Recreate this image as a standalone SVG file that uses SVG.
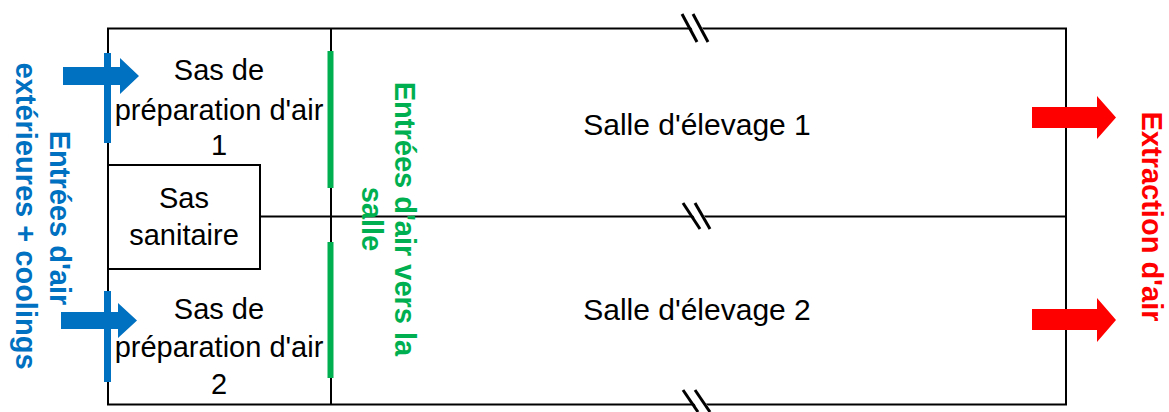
<svg xmlns="http://www.w3.org/2000/svg" width="1169" height="412" viewBox="0 0 1169 412">
<style>
.wall{fill:none;stroke:#000;stroke-width:2}
.brk{stroke:#000;stroke-width:3;fill:none}
.t{font-family:"Liberation Sans",Arial,sans-serif;font-size:29px;fill:#000;text-anchor:middle}
.ts{font-family:"Liberation Sans",Arial,sans-serif;font-size:30px;fill:#000;text-anchor:middle}
.lb{font-family:"Liberation Sans",Arial,sans-serif;font-size:29px;font-weight:bold;text-anchor:middle}
.blue{fill:#0070C0}
.green{fill:#00B050}
.red{fill:#FF0000}
</style>
<rect width="1169" height="412" fill="#fff"/>
<g id="walls">
<rect class="wall" x="108" y="28.5" width="958" height="376"/>
<line class="wall" x1="331" y1="28.5" x2="331" y2="404.5"/>
<line class="wall" x1="260" y1="216.5" x2="1066" y2="216.5"/>
</g>
<g id="breaks">
<polygon points="684,14 695,14 710,42 699,42" fill="#fff"/>
<line class="brk" x1="682" y1="14" x2="697" y2="42"/>
<line class="brk" x1="693" y1="14" x2="708" y2="42"/>
<polygon points="685,203 697,203 712,229 702,229" fill="#fff"/>
<line class="brk" x1="683" y1="203" x2="700" y2="229"/>
<line class="brk" x1="695" y1="203" x2="710" y2="229"/>
<polygon points="685,390 697,390 712,412 700,412" fill="#fff"/>
<line class="brk" x1="683" y1="390" x2="698" y2="412"/>
<line class="brk" x1="695" y1="390" x2="710" y2="412"/>
</g>
<g id="sas-prep-1">
<text class="t" x="219" y="80">Sas de</text>
<text class="t" x="219" y="120">préparation d'air</text>
<text class="t" x="219" y="155">1</text>
</g>
<g id="sas-sanitaire">
<rect class="wall" x="108" y="165" width="152" height="104" fill="#fff"/>
<text class="t" x="184" y="208">Sas</text>
<text class="t" x="184" y="245">sanitaire</text>
</g>
<g id="sas-prep-2">
<text class="t" x="219" y="319">Sas de</text>
<text class="t" x="219" y="357">préparation d'air</text>
<text class="t" x="219" y="394">2</text>
</g>
<g id="salle-1">
<text class="ts" x="697" y="135">Salle d'élevage 1</text>
</g>
<g id="salle-2">
<text class="ts" x="697" y="320">Salle d'élevage 2</text>
</g>
<g id="entrees-ext">
<rect class="blue" x="104" y="53" width="7" height="90"/>
<rect class="blue" x="104" y="291" width="7" height="91"/>
<g transform="translate(50,218) rotate(90)"><text class="lb blue" x="0" y="0">Entrées d'air</text></g>
<g transform="translate(16,216) rotate(90)"><text class="lb blue" x="0" y="0">extérieures + coolings</text></g>
</g>
<g id="entrees-salle">
<rect class="green" x="327.5" y="51" width="6" height="137"/>
<rect class="green" x="327.5" y="242" width="6" height="136"/>
<g transform="translate(395,219) rotate(90)"><text class="lb green" x="0" y="0">Entrées d'air vers la</text></g>
<g transform="translate(362,219) rotate(90)"><text class="lb green" x="0" y="0">salle</text></g>
</g>
<g id="extraction">
<g transform="translate(1142,216.5) rotate(90)"><text class="lb red" x="0" y="0">Extraction d'air</text></g>
</g>
<g id="connectors">
<polygon class="blue" points="63,67 120,67 120,58 139,76 120,94 120,85 63,85"/>
<polygon class="blue" points="61,312 118,312 118,303 137,320.5 118,338 118,329 61,329"/>
<polygon class="red" points="1032,107 1097,107 1097,96 1116,117.5 1097,139 1097,128 1032,128"/>
<polygon class="red" points="1032,309 1097,309 1097,298 1116,320 1097,342 1097,330 1032,330"/>
</g>
</svg>
